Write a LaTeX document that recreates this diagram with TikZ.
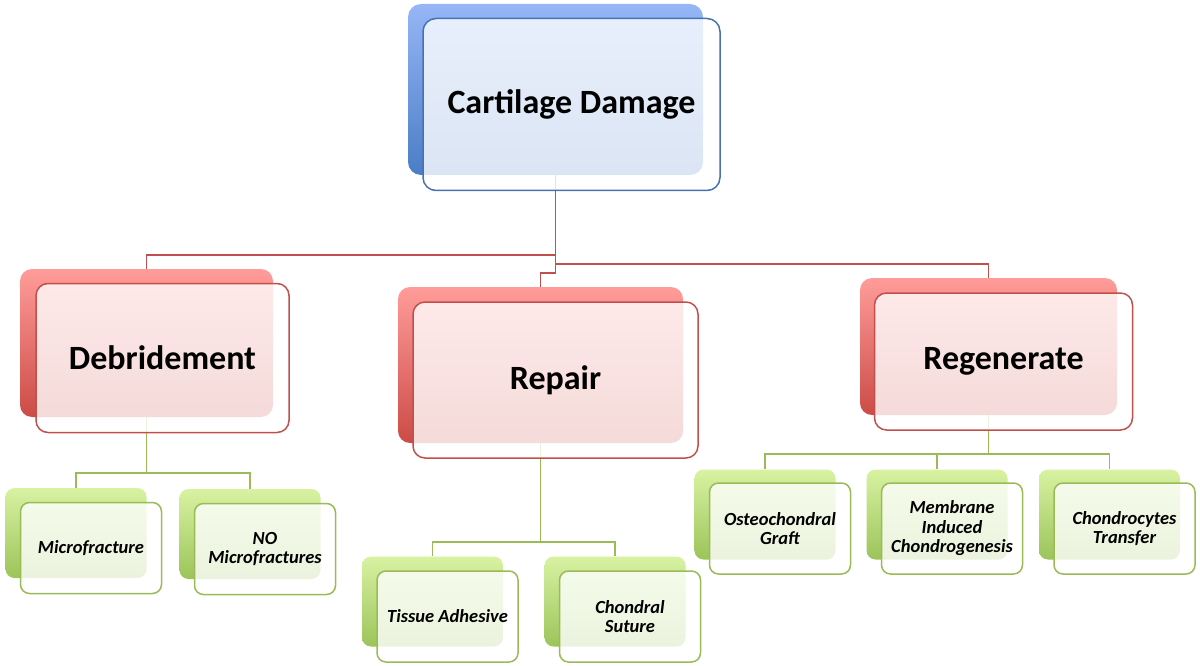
\documentclass[tikz,border=0pt]{standalone}
\usepackage{fontspec}
\setmainfont{Carlito}
\usepackage{tikz}
\usetikzlibrary{backgrounds}

\definecolor{bluetop}{HTML}{96B6F6}
\definecolor{bluebot}{HTML}{4A7DC6}
\definecolor{blueline}{HTML}{4672B4}
\definecolor{redtop}{HTML}{FF9C99}
\definecolor{redbot}{HTML}{CC4B46}
\definecolor{redline}{HTML}{C0504D}
\definecolor{greentop}{HTML}{D8F2A2}
\definecolor{greenbot}{HTML}{9CC45A}
\definecolor{greenline}{HTML}{9BBB59}

\begin{document}
\begin{tikzpicture}[x=1pt,y=-1pt,
  blueback/.style={rounded corners=13pt, inner sep=0pt, top color=bluetop, bottom color=bluebot},
  bluefront/.style={rounded corners=13pt, inner sep=0pt, draw=blueline, line width=1.5pt,
    fill=white, fill opacity=0.8, text opacity=1, font=\bfseries\fontsize{34}{36}\selectfont},
  redback/.style={rounded corners=12pt, inner sep=0pt, top color=redtop, bottom color=redbot},
  redfront/.style={rounded corners=12pt, inner sep=0pt, draw=redline, line width=1.5pt,
    fill=white, fill opacity=0.8, text opacity=1, font=\bfseries\fontsize{34}{36}\selectfont},
  greenback/.style={rounded corners=9pt, inner sep=0pt, minimum width=141, minimum height=90,
    top color=greentop, bottom color=greenbot},
  greenfront/.style={rounded corners=9pt, inner sep=0pt, minimum width=141, minimum height=91,
    draw=greenline, line width=1.5pt, fill=white, fill opacity=0.8, text opacity=1, align=center,
    font=\bfseries\itshape\fontsize{18.5}{19.5}\selectfont},
  redcon/.style={draw=redline, line width=1.8pt},
  greencon/.style={draw=greenline, line width=1.8pt}]

\useasboundingbox (0,0) rectangle (1200,666);

% back boxes
\node[blueback, minimum width=295, minimum height=171] (dmg) at (555.5,89.5) {};
\node[redback, minimum width=253, minimum height=148] (deb) at (146.5,343) {};
\node[redback, minimum width=285, minimum height=156] (rep) at (540.5,365) {};
\node[redback, minimum width=257, minimum height=137] (reg) at (988.5,346.5) {};
\node[greenback] (mic) at (76,533) {};
\node[greenback] (nomic) at (250,534) {};
\node[greenback] (tis) at (432.5,601.5) {};
\node[greenback] (sut) at (615,601.5) {};
\node[greenback] (ost) at (765,514.5) {};
\node[greenback] (mem) at (937,514.5) {};
\node[greenback] (cho) at (1109.5,514.5) {};

% connectors
\begin{pgfonlayer}{background}
\draw[redcon] (dmg.south) -- ++(0,80) -| (deb.north);
\draw[redcon] (dmg.south) -- ++(0,98) -| (rep.north);
\draw[redcon] (dmg.south) -- ++(0,89) -| (reg.north);
\draw[greencon] (deb.south) -- ++(0,56) -| (mic.north);
\draw[greencon] (deb.south) -- ++(0,56) -| (nomic.north);
\draw[greencon] (rep.south) -- ++(0,99) -| (tis.north);
\draw[greencon] (rep.south) -- ++(0,99) -| (sut.north);
\draw[greencon] (reg.south) -- ++(0,39) -| (ost.north);
\draw[greencon] (reg.south) -- ++(0,39) -| (mem.north);
\draw[greencon] (reg.south) -- ++(0,39) -| (cho.north);
\end{pgfonlayer}

% front boxes
\node[bluefront, minimum width=297, minimum height=172] (dmgtxt) at ([shift={(16,15)}]dmg.center) {Cartilage Damage};
\node[redfront, minimum width=253, minimum height=149] (debtxt) at ([shift={(16,15)}]deb.center) {Debridement};
\node[redfront, minimum width=285, minimum height=156] (reptxt) at ([shift={(15,15)}]rep.center) {Repair};
\node[redfront, minimum width=258, minimum height=137] (regtxt) at ([shift={(15,15)}]reg.center) {Regenerate};
\node[greenfront] (mictxt) at ([shift={(15,15)}]mic.center) {Microfracture};
\node[greenfront] (nomictxt) at ([shift={(15,15)}]nomic.center) {NO\\Microfractures};
\node[greenfront] (tistxt) at ([shift={(15,15)}]tis.center) {Tissue Adhesive};
\node[greenfront] (suttxt) at ([shift={(15,15)}]sut.center) {Chondral\\Suture};
\node[greenfront] (osttxt) at ([shift={(15,14)}]ost.center) {Osteochondral\\Graft};
\node[greenfront] (memtxt) at ([shift={(15,14)}]mem.center) {Membrane\\Induced\\Chondrogenesis};
\node[greenfront] (chotxt) at ([shift={(15,14)}]cho.center) {Chondrocytes\\Transfer};

\end{tikzpicture}
\end{document}
